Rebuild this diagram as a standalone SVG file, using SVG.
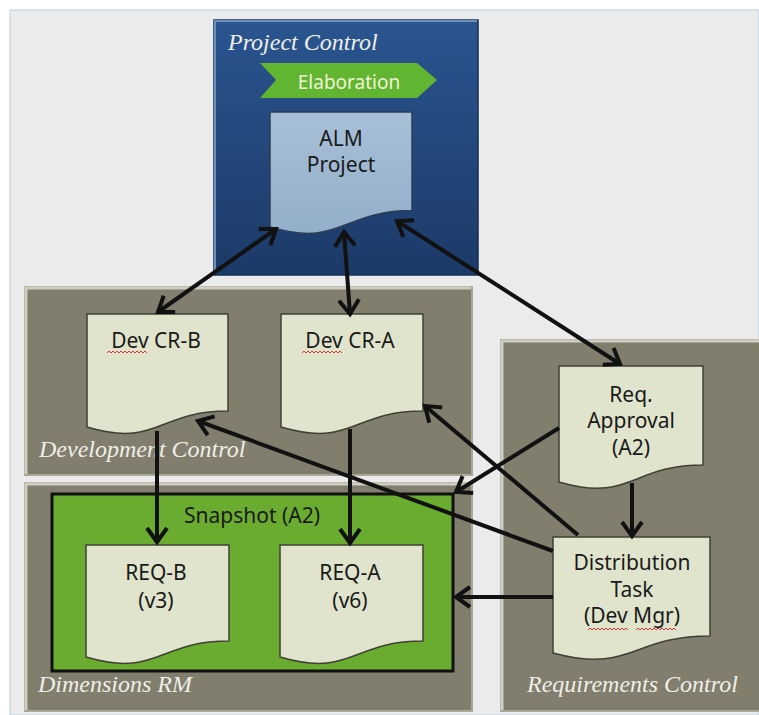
<svg xmlns="http://www.w3.org/2000/svg" width="759" height="715" viewBox="0 0 759 715">
<style>
.olive{fill:#817e6e;stroke:#a9a797;stroke-width:2}
.bevel{fill:none;stroke:#cfcdc1;stroke-width:3}
.doc{fill:#e0e4cc;stroke:#3f4036;stroke-width:1.5}
.lbl{font-family:"Noto Sans","DejaVu Sans",sans-serif;font-size:21px;fill:#1a1a1a;text-anchor:middle}
.ttl{font-family:"Liberation Serif",serif;font-style:italic;font-size:24px;fill:#efefe8}
.con{fill:none;stroke:#111;stroke-width:4}
.sq{fill:none;stroke:#d43a3a;stroke-width:1}
</style>
<defs>
<linearGradient id="blue" x1="0" y1="0" x2="0" y2="1">
<stop offset="0" stop-color="#2a5590"/>
<stop offset="1" stop-color="#1c3a67"/>
</linearGradient>
<linearGradient id="alm" x1="0" y1="0" x2="0" y2="1">
<stop offset="0" stop-color="#a8bfd7"/>
<stop offset="1" stop-color="#94afcb"/>
</linearGradient>
<marker id="ah" markerUnits="userSpaceOnUse" markerWidth="30" markerHeight="30" viewBox="-20 -15 25 30" refX="0" refY="0" orient="auto-start-reverse">
<path d="M-14,-10 L0,0 L-14,10" fill="none" stroke="#111" stroke-width="4"/>
</marker>
</defs>
<rect x="0" y="0" width="759" height="715" fill="#ffffff"/>
<rect x="10" y="10" width="749" height="705" fill="#ebebeb" stroke="#b8cfe6" stroke-width="1"/>

<g id="project-control">
<rect x="214" y="20" width="264" height="255" fill="url(#blue)" stroke="#15305a" stroke-width="1.5"/>
<path d="M215,274 V21 H477" fill="none" stroke="#6f90bb" stroke-width="2"/>
<text class="ttl" x="228" y="50">Project Control</text>
</g>
<g id="elaboration">
<polygon points="260,63 417,63 437,80 417,98 260,98 276,80" fill="#62b530"/>
<text x="349" y="89" font-family="'Noto Sans','DejaVu Sans',sans-serif" font-size="19" fill="#eef4d6" text-anchor="middle">Elaboration</text>
</g>
<g id="alm-project">
<path d="M270,112 H412 V210.6 C341,210.6 341,248.2 270,226.9 Z" fill="url(#alm)" stroke="#2c3e55" stroke-width="1.5"/>
<text class="lbl" x="341" y="146">ALM</text>
<text class="lbl" x="341" y="172">Project</text>
</g>

<g id="development-control">
<rect class="olive" x="25" y="287" width="447" height="188"/>
<path class="bevel" d="M26,474 V288 H471"/>
<text class="ttl" x="39" y="457">Development Control</text>
</g>
<g id="dev-cr-b">
<path class="doc" d="M87,314 H228 V411 C157.5,411 157.5,448 87,427 Z"/>
<text class="lbl" x="156" y="348">Dev CR-B</text>
<path class="sq" d="M107,353 l2,-2 l2,2 l2,-2 l2,2 l2,-2 l2,2 l2,-2 l2,2 l2,-2 l2,2 l2,-2 l2,2 l2,-2 l2,2 l2,-2 l2,2 l2,-2 l2,2 l2,-2 l2,2"/>
</g>
<g id="dev-cr-a">
<path class="doc" d="M281,314 H423 V411 C352,411 352,448 281,427 Z"/>
<text class="lbl" x="350" y="348">Dev CR-A</text>
<path class="sq" d="M302,353 l2,-2 l2,2 l2,-2 l2,2 l2,-2 l2,2 l2,-2 l2,2 l2,-2 l2,2 l2,-2 l2,2 l2,-2 l2,2 l2,-2 l2,2 l2,-2 l2,2 l2,-2 l2,2"/>
</g>

<g id="dimensions-rm">
<rect class="olive" x="25" y="483" width="447" height="228"/>
<path class="bevel" d="M26,710 V484 H471"/>
<text class="ttl" x="38" y="692">Dimensions RM</text>
</g>
<g id="snapshot">
<rect x="52" y="494" width="401" height="177" fill="#6aac2f" stroke="#111" stroke-width="3"/>
<text class="lbl" x="252" y="523">Snapshot (A2)</text>
</g>
<g id="req-b">
<path class="doc" d="M86,545 H229 V641 C157.5,641 157.5,678 86,657 Z"/>
<text class="lbl" x="156" y="580">REQ-B</text>
<text class="lbl" x="156" y="608">(v3)</text>
</g>
<g id="req-a">
<path class="doc" d="M280,545 H423 V641 C351.5,641 351.5,678 280,657 Z"/>
<text class="lbl" x="350" y="580">REQ-A</text>
<text class="lbl" x="350" y="608">(v6)</text>
</g>

<g id="requirements-control">
<rect class="olive" x="501" y="340" width="260" height="371"/>
<path class="bevel" d="M502,710 V341 H759"/>
<text class="ttl" x="527" y="692">Requirements Control</text>
</g>
<g id="req-approval">
<path class="doc" d="M559,366 H703 V465 C631,465 631,503 559,482 Z"/>
<text class="lbl" x="631" y="402">Req.</text>
<text class="lbl" x="631" y="428">Approval</text>
<text class="lbl" x="631" y="455">(A2)</text>
</g>
<g id="distribution-task">
<path class="doc" d="M553,537 H710 V636 C631.5,636 631.5,674 553,653 Z"/>
<text class="lbl" x="632" y="570">Distribution</text>
<text class="lbl" x="632" y="597">Task</text>
<text class="lbl" x="632" y="623">(Dev Mgr)</text>
<path class="sq" d="M588,630 l2,-2 l2,2 l2,-2 l2,2 l2,-2 l2,2 l2,-2 l2,2 l2,-2 l2,2 l2,-2 l2,2 l2,-2 l2,2 l2,-2 l2,2 l2,-2 l2,2 l2,-2 l2,2"/>
<path class="sq" d="M636,630 l2,-2 l2,2 l2,-2 l2,2 l2,-2 l2,2 l2,-2 l2,2 l2,-2 l2,2 l2,-2 l2,2 l2,-2 l2,2 l2,-2 l2,2 l2,-2 l2,2 l2,-2 l2,2"/>
</g>

<g id="connectors">
<line class="con" x1="158" y1="312" x2="276" y2="229" marker-start="url(#ah)" marker-end="url(#ah)"/>
<line class="con" x1="350" y1="314" x2="344" y2="232" marker-start="url(#ah)" marker-end="url(#ah)"/>
<line class="con" x1="620" y1="364" x2="397" y2="221" marker-start="url(#ah)" marker-end="url(#ah)"/>
<line class="con" x1="157" y1="431" x2="157" y2="542" marker-end="url(#ah)"/>
<line class="con" x1="350" y1="429" x2="350" y2="543" marker-end="url(#ah)"/>
<line class="con" x1="632" y1="483" x2="632" y2="536" marker-end="url(#ah)"/>
<line class="con" x1="559" y1="428" x2="456" y2="492" marker-end="url(#ah)"/>
<line class="con" x1="553" y1="551" x2="198" y2="421" marker-end="url(#ah)"/>
<line class="con" x1="578" y1="535" x2="425" y2="406" marker-end="url(#ah)"/>
<line class="con" x1="553" y1="597" x2="456" y2="597" marker-end="url(#ah)"/>
</g>
</svg>
